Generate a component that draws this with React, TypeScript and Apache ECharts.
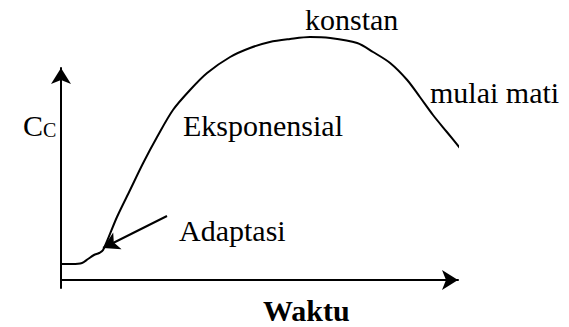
import React, { useEffect, useRef } from "react";
import * as echarts from "echarts";

// Growth curve (time, concentration) in arbitrary units
const timeValues = [0, 2.8, 5.3, 6.8, 8.3, 9.6, 10.6, 14.1, 17.4, 20.7, 24.2, 28.2, 32.5, 36.8, 42.6, 47.6, 52.6, 57.7, 62.7, 67.8, 74.6, 78.6, 82.9, 87.2, 90.4, 93.7, 97.2, 100.5];
const concValues = [8, 8, 8.5, 10.5, 12.5, 13.5, 15, 31.5, 45, 58.5, 71.5, 85, 95, 103.5, 111.5, 116, 119, 120.5, 121.5, 121, 118.5, 114, 108.5, 100, 91.5, 82.5, 74, 66];

// Annotation arrow "Adaptasi" (start, end) in data units
const adaptArrowStart = [26.7, 32];
const adaptArrowEnd = [10.6, 16];

const labels = {
  konstan: "konstan",
  mulai: "mulai mati",
  eksp: "Eksponensial",
  adapt: "Adaptasi",
  xName: "Waktu",
  yMain: "C",
  ySub: "C",
};

const FAMILY = "Liberation Serif";

export default function App() {
  const ref = useRef<HTMLDivElement>(null);
  useEffect(() => {
    if (!ref.current) return;
    const chart = echarts.init(ref.current, undefined, { renderer: "svg" });
    const ttl = (text: string, left: number, top: number, size: number, weight: string = "normal") => ({
      text,
      left,
      top,
      padding: 0,
      itemGap: 0,
      textStyle: {
        fontFamily: FAMILY,
        fontSize: size,
        fontWeight: weight,
        color: "#000",
        lineHeight: size,
      },
    });
    chart.setOption({
      animation: false,
      backgroundColor: "#fff",
      textStyle: { fontFamily: FAMILY },
      title: [
        ttl(labels.konstan, 305, 4, 30),
        ttl(labels.mulai, 430, 77, 30),
        ttl(labels.eksp, 183, 110, 30),
        ttl(labels.adapt, 179, 215, 30),
        ttl(labels.xName, 263, 295, 30, "bold"),
        {
          text: `{a|${labels.yMain}}{b|${labels.ySub}}`,
          left: 23,
          top: 110,
          padding: 0,
          textStyle: {
            fontFamily: FAMILY,
            fontWeight: "normal",
            color: "#000",
            rich: {
              a: { fontFamily: FAMILY, fontWeight: "normal", fontSize: 30, lineHeight: 30, color: "#000", verticalAlign: "bottom" },
              b: { fontFamily: FAMILY, fontWeight: "normal", fontSize: 20, lineHeight: 12, color: "#000", verticalAlign: "bottom" },
            },
          },
        },
      ],
      grid: { left: 61, right: 111, top: 68, bottom: 39, containLabel: false },
      xAxis: {
        type: "value",
        min: 0,
        max: 100,
        axisLine: {
          show: true,
          onZero: true,
          lineStyle: { color: "#000", width: 2 },
          symbol: ["none", "arrow"],
          symbolSize: [15, 16],
        },
        axisTick: { show: false },
        axisLabel: { show: false },
        splitLine: { show: false },
      },
      yAxis: {
        type: "value",
        min: -4,
        max: 106,
        axisLine: {
          show: true,
          onZero: false,
          lineStyle: { color: "#000", width: 2 },
          symbol: ["none", "arrow"],
          symbolSize: [15, 16],
        },
        axisTick: { show: false },
        axisLabel: { show: false },
        splitLine: { show: false },
      },
      series: [
        {
          type: "line",
          data: timeValues.map((t, i) => [t, concValues[i]]),
          smooth: 0.3,
          showSymbol: false,
          clip: false,
          lineStyle: { color: "#000", width: 2 },
          markLine: {
            silent: true,
            animation: false,
            lineStyle: { color: "#000", width: 2, type: "solid" },
            label: { show: false },
            data: [
              [
                { coord: adaptArrowStart, symbol: "none" },
                { coord: adaptArrowEnd, symbol: "arrow", symbolSize: [14, 16] },
              ],
            ],
          },
        },
      ],
    });
    return () => chart.dispose();
  }, []);
  return <div ref={ref} style={{ width: 569, height: 327, position: "absolute", left: 0, top: 0 }} />;
}
